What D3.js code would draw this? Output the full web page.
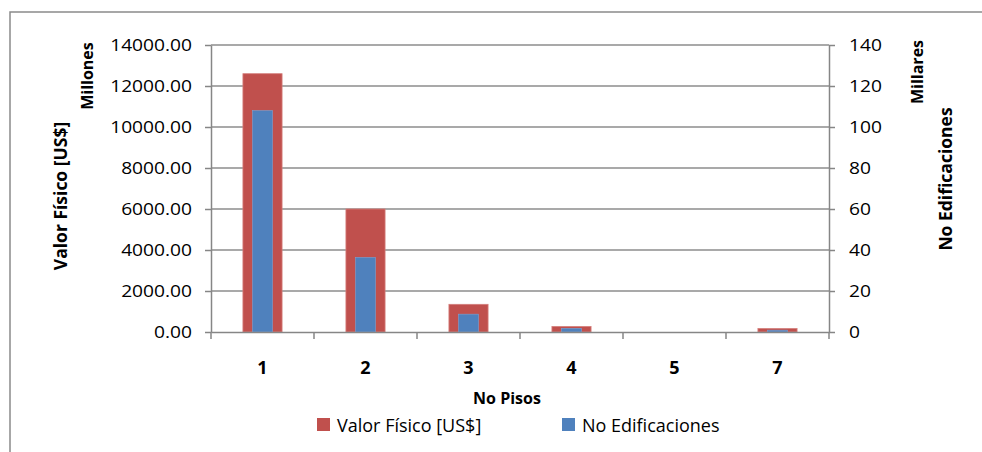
<!DOCTYPE html>
<html>
<head>
<meta charset="utf-8">
<script src="https://cdn.jsdelivr.net/npm/d3@7"></script>
<style>
  html, body { margin: 0; padding: 0; background: #fff; overflow: hidden; }
  svg { display: block; }
  text { font-family: "Open Sans", "Liberation Sans", sans-serif; fill: #000; }
</style>
</head>
<body>
<svg id="chart" width="982" height="452"></svg>
<script>
// ---- data ----
const categories = ["1", "2", "3", "4", "5", "7"];
const valorFisico = [12600, 6000, 1350, 270, 0, 170];      // millones US$
const noEdificaciones = [108, 36.4, 8.7, 1.8, 0, 0.9];     // millares
const leftTicks = [0, 2000, 4000, 6000, 8000, 10000, 12000, 14000];
const rightTicks = [0, 20, 40, 60, 80, 100, 120, 140];
const seriesNames = ["Valor Físico [US$]", "No Edificaciones"];
const seriesColors = ["#C0504D", "#4F81BD"];
const seriesEdge = ["#D47F7C", "#7DA1CF"];

// ---- layout ----
const svg = d3.select("#chart");
const plot = { left: 211, right: 829, top: 45, bottom: 332 };
const sx = 1.2; // horizontal stretch of tick labels

// border
svg.append("rect")
  .attr("x", 10).attr("y", 12)
  .attr("width", 1000).attr("height", 500)
  .attr("fill", "none").attr("stroke", "#8a8a8a").attr("stroke-width", 1.5);

const x = d3.scaleBand().domain(categories).range([plot.left, plot.right]).paddingInner(0).paddingOuter(0);
const yL = d3.scaleLinear().domain([0, 14000]).range([plot.bottom, plot.top]);
const yR = d3.scaleLinear().domain([0, 140]).range([plot.bottom, plot.top]);

// gridlines
svg.append("g").selectAll("line").data(leftTicks.filter(d => d > 0)).join("line")
  .attr("x1", plot.left).attr("x2", plot.right)
  .attr("y1", d => yL(d)).attr("y2", d => yL(d))
  .attr("stroke", "#8c8c8c").attr("stroke-width", 1.3);

// bars
const redW = x.bandwidth() * 0.38;
const blueW = x.bandwidth() * 0.195;
svg.append("g").selectAll("rect").data(categories.filter((c, i) => valorFisico[i] > 0)).join("rect")
  .attr("x", (c) => x(c) + x.bandwidth() / 2 - redW / 2)
  .attr("width", redW)
  .attr("y", (c) => yL(valorFisico[categories.indexOf(c)]))
  .attr("height", (c) => yL(0) - yL(valorFisico[categories.indexOf(c)]))
  .attr("fill", seriesColors[0])
  .attr("stroke", seriesEdge[0]).attr("stroke-width", 0.8);

svg.append("g").selectAll("rect").data(categories.filter((c, i) => noEdificaciones[i] > 0)).join("rect")
  .attr("x", (c) => x(c) + x.bandwidth() / 2 - blueW / 2)
  .attr("width", blueW)
  .attr("y", (c) => yR(noEdificaciones[categories.indexOf(c)]))
  .attr("height", (c) => yR(0) - yR(noEdificaciones[categories.indexOf(c)]))
  .attr("fill", seriesColors[1])
  .attr("stroke", seriesEdge[1]).attr("stroke-width", 0.6);

// axes
function styleAxis(g) {
  g.selectAll(".domain").attr("stroke", "#868686").attr("stroke-width", 1.5);
  g.selectAll(".tick line").attr("stroke", "#868686").attr("stroke-width", 1.5);
}

const gL = svg.append("g").attr("transform", `translate(${plot.left},0)`)
  .call(d3.axisLeft(yL).tickValues(leftTicks).tickFormat(d3.format(".2f")).tickSize(6).tickSizeOuter(0).tickPadding(13));
styleAxis(gL);
gL.selectAll(".tick text")
  .attr("x", 0)
  .attr("dy", "0.36em")
  .attr("transform", `translate(-19,0) scale(${sx},1)`)
  .style("font-size", "16px").style("font-family", "'Open Sans', sans-serif");

const gR = svg.append("g").attr("transform", `translate(${plot.right},0)`)
  .call(d3.axisRight(yR).tickValues(rightTicks).tickFormat(d3.format("d")).tickSize(6).tickSizeOuter(0).tickPadding(14));
styleAxis(gR);
gR.selectAll(".tick text")
  .attr("x", 0)
  .attr("dy", "0.36em")
  .attr("transform", `translate(20,0) scale(${sx},1)`)
  .style("font-size", "16px").style("font-family", "'Open Sans', sans-serif");

// category axis
const gX = svg.append("g").attr("transform", `translate(0,${plot.bottom})`)
  .call(d3.axisBottom(x).tickSize(0).tickSizeOuter(0).tickPadding(0));
gX.selectAll(".domain").attr("stroke", "#868686").attr("stroke-width", 1.5);
gX.selectAll(".tick text")
  .attr("y", 42).attr("dy", 0)
  .style("font-size", "18px").style("font-weight", "bold")
  .style("font-family", "'Open Sans', sans-serif");
// category boundary tick marks
const bounds = categories.map(c => x(c)).concat([x(categories[categories.length - 1]) + x.bandwidth()]);
svg.append("g").selectAll("line").data(bounds).join("line")
  .attr("x1", d => d).attr("x2", d => d)
  .attr("y1", plot.bottom).attr("y2", plot.bottom + 7)
  .attr("stroke", "#868686").attr("stroke-width", 1.5);

// axis titles
function vTitle(txt, tx, ty, size) {
  svg.append("text")
    .attr("transform", `translate(${tx},${ty}) rotate(-90)`)
    .attr("text-anchor", "middle")
    .style("font-size", size + "px").style("font-weight", "bold")
    .text(txt);
}
vTitle("Millones", 93, 76, 16);
vTitle("Valor Físico [US$]", 67, 196, 17.5);
vTitle("Millares", 923, 72, 16);
vTitle("No Edificaciones", 952, 179, 17.5);

svg.append("text")
  .attr("x", 507).attr("y", 404)
  .attr("text-anchor", "middle")
  .style("font-size", "16px").style("font-weight", "bold")
  .text("No Pisos");

// legend
const legendX = [317, 562];
const lg = svg.append("g").selectAll("g").data(seriesNames).join("g")
  .attr("transform", (d, i) => `translate(${legendX[i]},418)`);
lg.append("rect").attr("width", 13).attr("height", 13)
  .attr("fill", (d, i) => seriesColors[i]);
lg.append("text").attr("x", 20).attr("y", 14)
  .style("font-size", "18px")
  .text(d => d);
</script>
</body>
</html>
